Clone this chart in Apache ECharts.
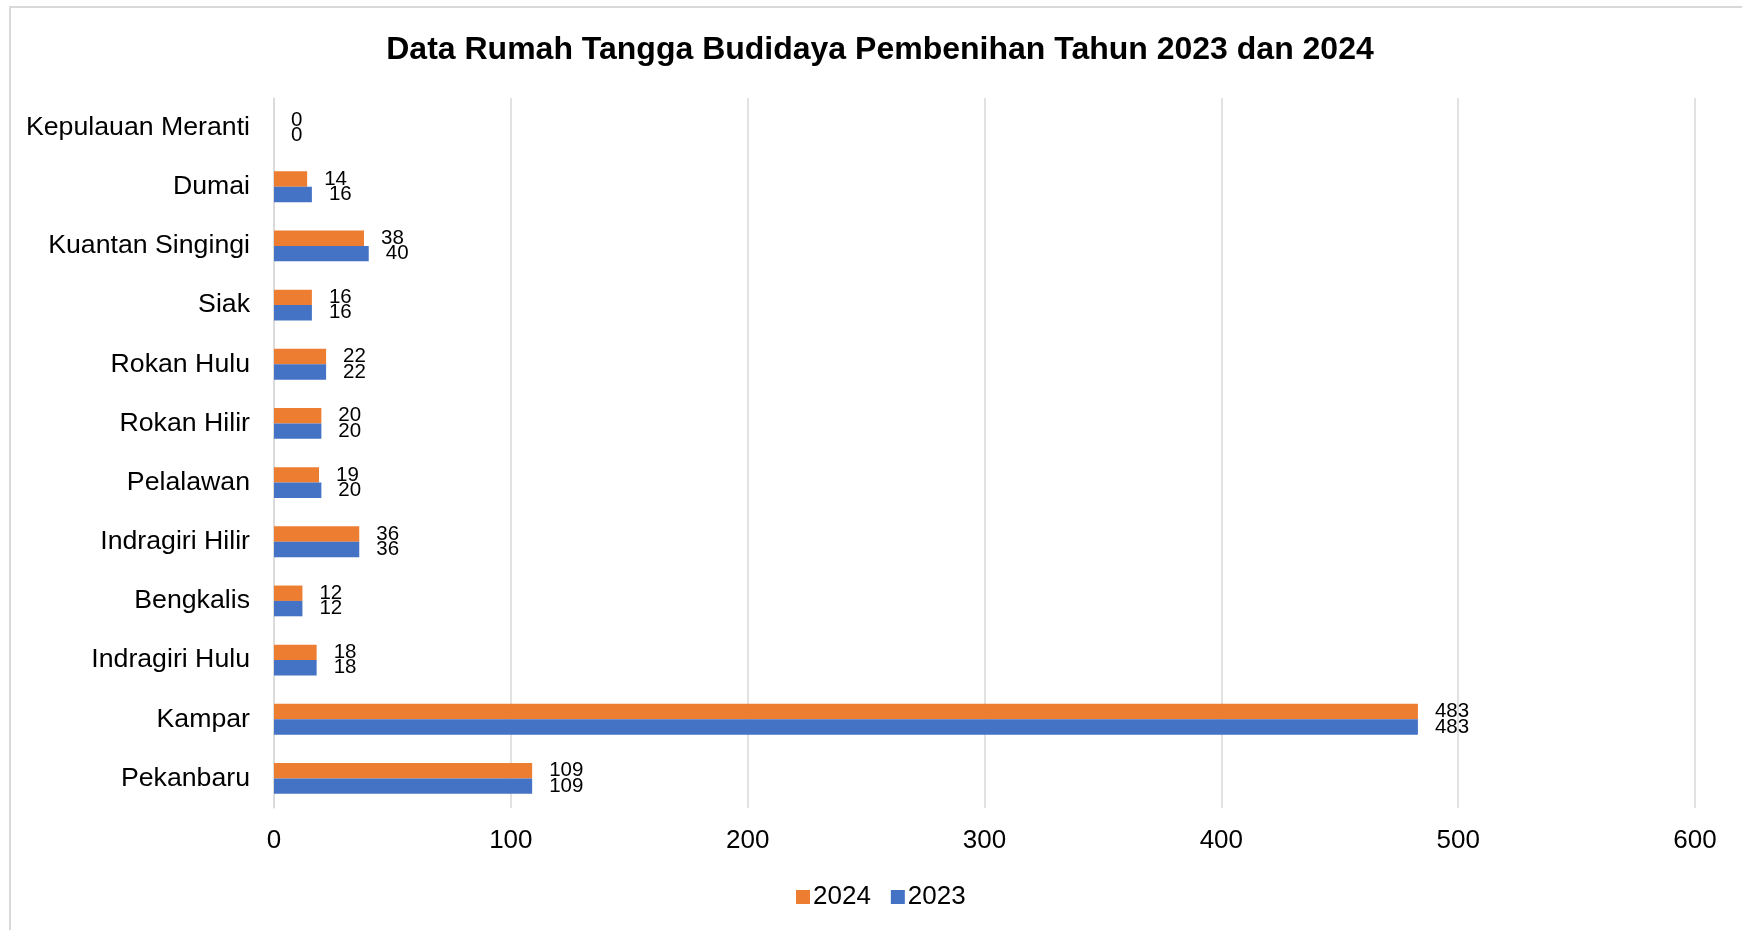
<!DOCTYPE html>
<html>
<head>
<meta charset="utf-8">
<title>Data Rumah Tangga Budidaya Pembenihan</title>
<script src="https://cdn.jsdelivr.net/npm/echarts@6/dist/echarts.min.js"></script>
<style>
  html, body { margin: 0; padding: 0; background: #fff; }
  #chart { width: 1742px; height: 930px; }
</style>
</head>
<body>
<div id="chart"></div>
<script>
// kategori dari bawah ke atas (urutan sumbu kategori ECharts)
const categories = [
  'Pekanbaru', 'Kampar', 'Indragiri Hulu', 'Bengkalis', 'Indragiri Hilir',
  'Pelalawan', 'Rokan Hilir', 'Rokan Hulu', 'Siak', 'Kuantan Singingi',
  'Dumai', 'Kepulauan Meranti'
]
const values2024 = [109, 483, 18, 12, 36, 19, 20, 22, 16, 38, 14, 0]
const values2023 = [109, 483, 18, 12, 36, 20, 20, 22, 16, 40, 16, 0]
const xTicks = [0, 100, 200, 300, 400, 500, 600]

const fontFamily = '"Liberation Sans", Arial, sans-serif'
const gridColor = '#d9d9d9'

const chart = echarts.init(document.getElementById('chart'))

const labelStyle = {
  show: true,
  position: 'right',
  distance: 17,
  color: '#000',
  fontSize: 20.5,
  fontFamily: fontFamily
}

const option = {
  backgroundColor: '#fff',
  animation: false,
  graphic: [
    {
      type: 'rect',
      shape: { x: 10, y: 7, width: 1800, height: 1000 },
      style: { fill: 'none', stroke: gridColor, lineWidth: 2 },
      silent: true
    }
  ],
  title: {
    text: 'Data Rumah Tangga Budidaya Pembenihan Tahun 2023 dan 2024',
    left: 875,
    top: 29,
    textAlign: 'center',
    textStyle: {
      color: '#000',
      fontSize: 32,
      fontWeight: 'bold',
      fontFamily: fontFamily
    }
  },
  legend: {
    data: ['2024', '2023'],
    left: 791,
    top: 879,
    itemWidth: 14,
    itemHeight: 14,
    itemGap: 20,
    icon: 'rect',
    textStyle: {
      color: '#000',
      fontSize: 26,
      fontFamily: fontFamily,
      padding: [0, 0, 0, -2]
    }
  },
  grid: {
    left: 274,
    right: 47,
    top: 98,
    bottom: 122,
    containLabel: false
  },
  xAxis: {
    type: 'value',
    min: xTicks[0],
    max: xTicks[xTicks.length - 1],
    interval: xTicks[1] - xTicks[0],
    axisLine: { show: false },
    axisTick: { show: false },
    axisLabel: {
      color: '#000',
      fontSize: 26,
      fontFamily: fontFamily,
      margin: 20
    },
    splitLine: {
      lineStyle: { color: gridColor, width: 1.5 }
    }
  },
  yAxis: {
    type: 'category',
    data: categories,
    axisLine: {
      lineStyle: { color: gridColor, width: 1.5 }
    },
    axisTick: { show: false },
    axisLabel: {
      color: '#000',
      fontSize: 26.7,
      fontFamily: fontFamily,
      margin: 24
    }
  },
  series: [
    {
      name: '2024',
      type: 'bar',
      data: values2024,
      barGap: '0%',
      barCategoryGap: '48%',
      itemStyle: { color: '#ED7D31' },
      label: labelStyle
    },
    {
      name: '2023',
      type: 'bar',
      data: values2023,
      barGap: '0%',
      barCategoryGap: '48%',
      itemStyle: { color: '#4472C4' },
      label: labelStyle
    }
  ]
}

chart.setOption(option)
</script>
</body>
</html>
